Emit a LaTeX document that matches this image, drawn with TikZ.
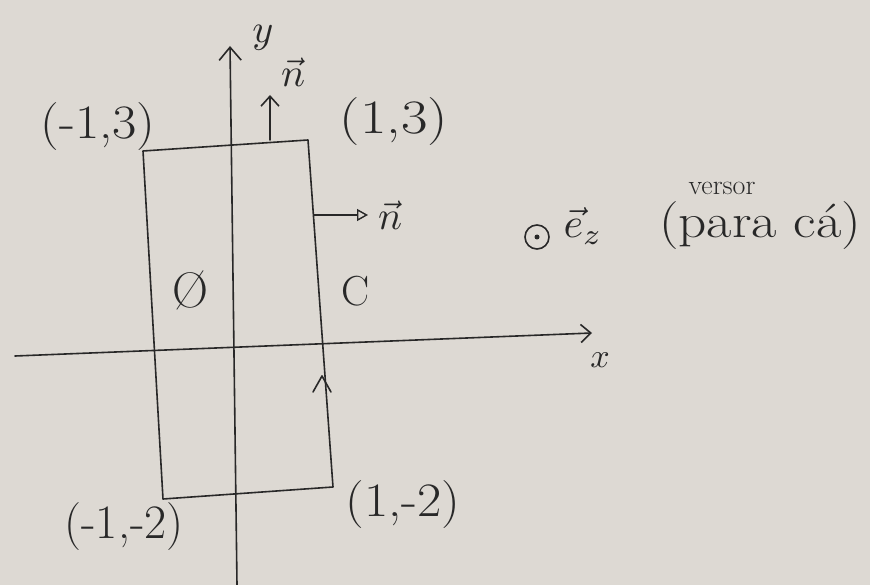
\documentclass[tikz,border=0pt]{standalone}
\usepackage{graphicx}
\usetikzlibrary{arrows.meta,calc}
\definecolor{paper}{RGB}{221,217,211}
\definecolor{ink}{RGB}{40,40,40}
\begin{document}
\begin{tikzpicture}[x=1pt,y=-1pt,
  pen/.style={line width=1.6pt, draw=ink, line cap=round, line join=round},
  barb/.style={-{Straight Barb[length=13pt,width=22pt,line width=1.6pt]}},
  lbl/.style={text=ink, inner sep=0pt, font=\fontsize{48}{52}\selectfont},
  mathlbl/.style={text=ink, inner sep=0pt, font=\normalsize}]
\fill[paper] (0,0) rectangle (870,585);
\useasboundingbox (0,0) rectangle (870,585);
% rectangle (contour C)
\coordinate (A) at (143,151);
\coordinate (B) at (308,140);
\coordinate (Cc) at (333,487);
\coordinate (D) at (163,499);
\draw[pen] (A) -- (B) -- (Cc) -- (D) -- cycle;
% axes
\coordinate (yb) at (237,585);
\coordinate (yt) at (230,46);
\draw[pen,barb] (yb) -- (yt);
\coordinate (xl) at (15,356);
\coordinate (xr) at (592,333);
\draw[pen,-{Straight Barb[length=10pt,width=18pt,line width=1.6pt]}] (xl) -- (xr);
% normal vectors
\coordinate (n1s) at (270,140);
\coordinate (n1e) at (270,95);
\draw[pen,-{Straight Barb[length=10pt,width=18pt,line width=1.6pt]}] (n1s) -- (n1e);
\coordinate (n2s) at (314,215);
\coordinate (n2e) at (368,215);
\draw[pen,-{Triangle[open,length=11pt,width=12pt,line width=1.4pt]}] (n2s) -- (n2e);
% orientation mark on the right side
\coordinate (m) at (322,376);
\draw[pen] ($(m)+(-9,16)$) -- (m) -- ($(m)+(9,16)$);
% labels
\node[mathlbl] (ylab) at (263,38) {\scalebox{4}{$y$}};
\node[mathlbl] (xlab) at (600,360) {\scalebox{3.4}{$x$}};
\node[lbl] (p1) at (98,127) {\scalebox{1.1}[1]{(-1,3)}};
\node[lbl] (p2) at (394,122) {\scalebox{1.2}[1]{(1,3)}};
\node[lbl] (p3) at (124,527) {\scalebox{1.0}[1]{(-1,-2)}};
\node[lbl] (p4) at (403,505) {\scalebox{1.1}[1]{(1,-2)}};
\node[lbl, font=\fontsize{42}{46}\selectfont] (Clab) at (356,291) {C};
\node[lbl, font=\fontsize{50}{54}\selectfont] (Dlab) at (190,290) {\O};
\node[mathlbl] (n1lab) at (293,72) {\scalebox{4}{$\vec{n}$}};
\node[mathlbl] (n2lab) at (390,215) {\scalebox{4}{$\vec{n}$}};
\node[circle, pen, minimum size=24pt, inner sep=0pt] (ez) at (537,237) {};
\fill[ink] (ez.center) circle (2.5);
\node[mathlbl] (ezlab) at (583,226) {\scalebox{4.2}{$\vec{e}_z$}};
\node[text=ink, inner sep=0pt, font=\fontsize{28}{32}\selectfont] (vers) at (722,188) {versor};
\node[lbl] (para) at (760,226) {\scalebox{1.15}[1]{(para cá)}};
\end{tikzpicture}
\end{document}
